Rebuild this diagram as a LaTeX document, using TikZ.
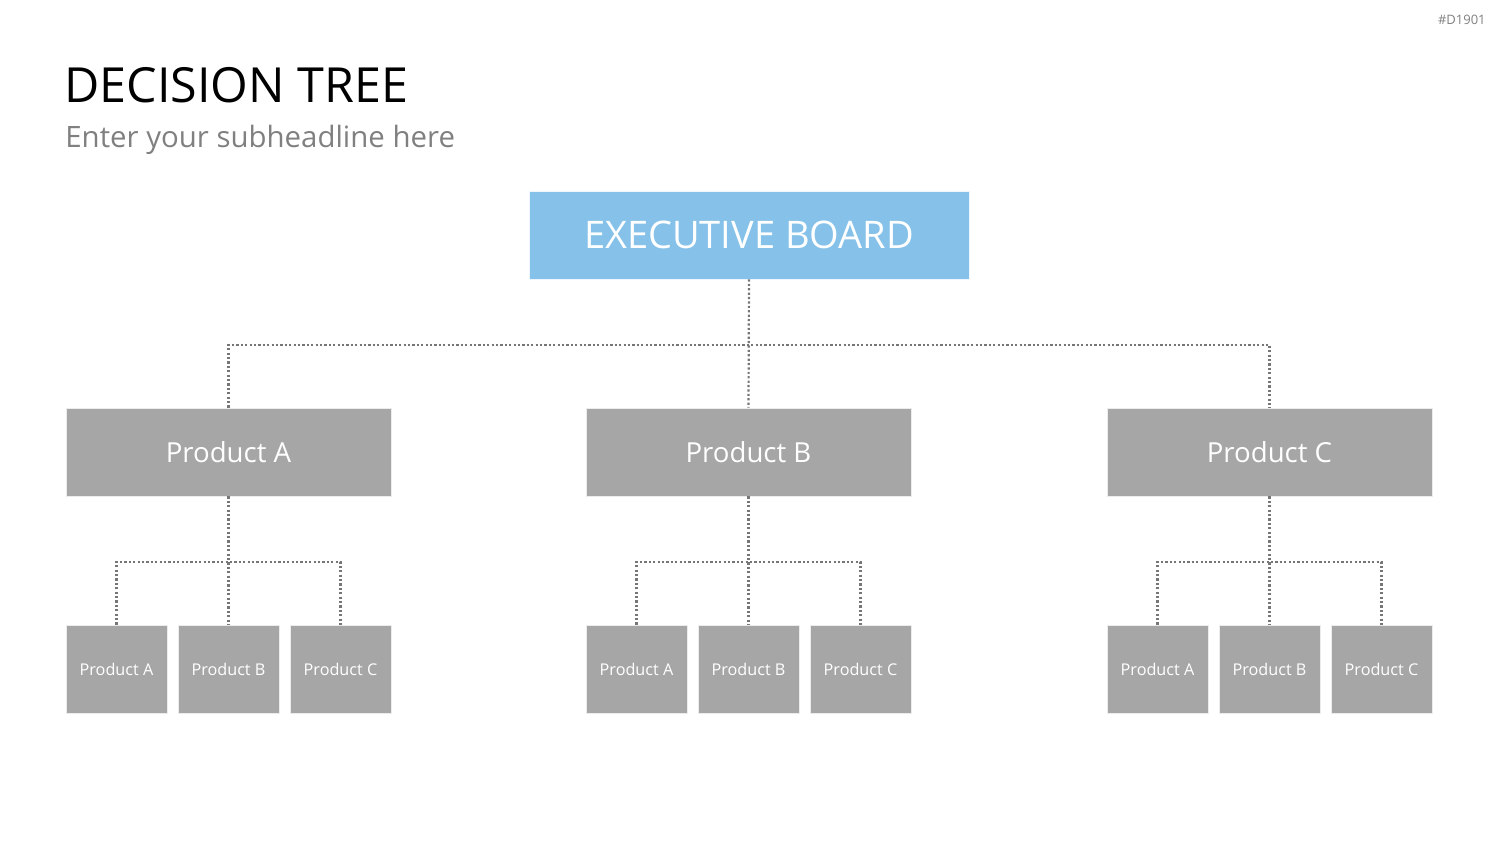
\documentclass[tikz,border=0pt]{standalone}
\usepackage{fontspec}
\setmainfont{Open Sans}
\definecolor{boxgray}{HTML}{A6A6A6}
\definecolor{boxblue}{HTML}{85C1E9}
\definecolor{linegray}{HTML}{767676}
\definecolor{subgray}{HTML}{808080}
\tikzset{
  bigbox/.style={rectangle, fill=boxgray, draw=white!85!gray, line width=0.4pt, minimum width=162.5pt, minimum height=44pt, inner sep=0pt, text=white, font=\fontsize{13.8}{17}\selectfont},
  smallbox/.style={rectangle, fill=boxgray, draw=white!85!gray, line width=0.4pt, minimum width=50.5pt, minimum height=44pt, inner sep=0pt, text=white, font=\fontsize{8.1}{10}\selectfont},
  execbox/.style={rectangle, fill=boxblue, draw=white!85!boxblue, line width=0.4pt, minimum width=220pt, minimum height=44pt, inner sep=0pt, text=white, font=\fontsize{19}{23}\selectfont},
  conn/.style={draw=linegray, line width=1.1pt, dash pattern=on 1.1pt off 1.1pt}
}
\begin{document}
\begin{tikzpicture}[x=0.5pt,y=-0.5pt]
\useasboundingbox (0,0) rectangle (1500,844);
% titles
\node[anchor=base west, inner sep=0pt, font=\fontsize{24.2}{29}\selectfont] (title) at (64,103) {DECISION TREE};
\node[anchor=base west, inner sep=0pt, text=subgray, font=\fontsize{14.7}{18}\selectfont] (sub) at (65,148) {Enter your subheadline here};
\node[anchor=base east, inner sep=0pt, text=subgray, font=\fontsize{6.5}{8}\selectfont] (code) at (1486,25) {\#D1901};
% exec
\node[execbox] (exec) at (749,235) {EXECUTIVE BOARD};
% level 1
\node[bigbox] (pA) at (228.5,452) {Product A};
\node[bigbox] (pB) at (748.5,452) {Product B};
\node[bigbox] (pC) at (1269.5,452) {Product C};
% level 2
\node[smallbox] (aA) at (116.5,669) {Product A};
\node[smallbox] (aB) at (228.5,669) {Product B};
\node[smallbox] (aC) at (340.5,669) {Product C};
\node[smallbox] (bA) at (636.5,669) {Product A};
\node[smallbox] (bB) at (748.5,669) {Product B};
\node[smallbox] (bC) at (860.5,669) {Product C};
\node[smallbox] (cA) at (1157.5,669) {Product A};
\node[smallbox] (cB) at (1269.5,669) {Product B};
\node[smallbox] (cC) at (1381.5,669) {Product C};
% junctions
\coordinate (j0) at (749,345);
\coordinate (jA) at (228.5,562);
\coordinate (jB) at (748.5,562);
\coordinate (jC) at (1269.5,562);
% connectors
\draw[conn] (exec.south) -- (pB.north);
\draw[conn] (pA.north) |- (j0) -| (pC.north);
\draw[conn] (pA.south) -- (aB.north);
\draw[conn] (aA.north) |- (jA) -| (aC.north);
\draw[conn] (pB.south) -- (bB.north);
\draw[conn] (bA.north) |- (jB) -| (bC.north);
\draw[conn] (pC.south) -- (cB.north);
\draw[conn] (cA.north) |- (jC) -| (cC.north);
\end{tikzpicture}
\end{document}
